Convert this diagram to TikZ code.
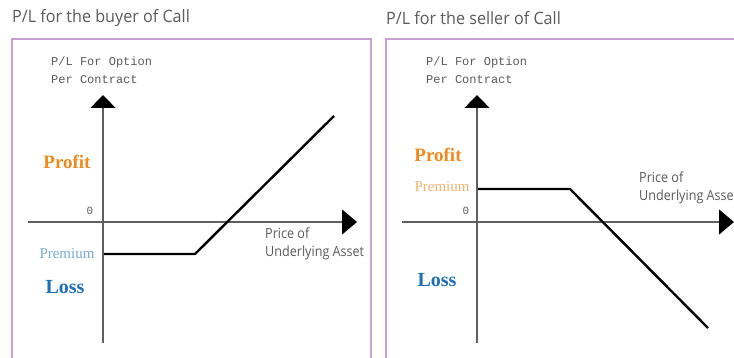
\documentclass[tikz,border=0pt]{standalone}
\usepackage{fontspec}
\setmainfont{Liberation Serif}
\newfontfamily\titlefont[FakeStretch=0.95]{Open Sans}
\newfontfamily\narrowfont[FakeStretch=0.9]{Open Sans}
\newfontfamily\monofont{Liberation Mono}
\usetikzlibrary{arrows.meta}
\definecolor{boxpurple}{RGB}{200,160,210}
\definecolor{profitorange}{RGB}{240,138,28}
\definecolor{premblue}{RGB}{120,170,215}
\definecolor{premorange}{RGB}{245,178,110}
\definecolor{lossblue}{RGB}{30,110,185}
\definecolor{axisgray}{RGB}{95,95,95}
\definecolor{textgray}{RGB}{90,90,90}
\tikzset{
  panelbox/.style={draw=boxpurple, line width=1.3pt},
  axisline/.style={draw=axisgray, line width=1.2pt},
  yaxisarrow/.style={axisline, -{Triangle[length=13pt,width=25pt,color=black]}},
  xaxisarrow/.style={axisline, -{Triangle[length=15pt,width=25pt,color=black]}},
  payoff/.style={draw=black, line width=2.4pt, line join=round},
  paneltitle/.style={anchor=west, inner sep=0pt, text=textgray, font=\titlefont\fontsize{17}{19}\selectfont},
  ylabeltext/.style={anchor=west, inner sep=0pt, align=left, text=textgray, font=\monofont\fontsize{12}{18}\selectfont},
  profittext/.style={inner sep=0pt, text=profitorange, font=\bfseries\fontsize{19}{20}\selectfont},
  losstext/.style={inner sep=0pt, text=lossblue, font=\bfseries\fontsize{20}{22}\selectfont},
  premtext/.style={inner sep=0pt, font=\fontsize{15}{16}\selectfont},
  zerotext/.style={inner sep=0pt, text=textgray, font=\monofont\fontsize{11}{12}\selectfont},
  pricetext/.style={anchor=west, inner sep=0pt, align=left, text=textgray, font=\narrowfont\fontsize{14}{18}\selectfont},
}
\begin{document}
\begin{tikzpicture}[x=1pt, y=-1pt]
\useasboundingbox (0,0) rectangle (734,358);
\clip (0,0) rectangle (734,358);
% ---------- left panel ----------
\node[paneltitle] (t1) at (12,18) {P/L for the buyer of Call};
\draw[panelbox] (12,365) -- (12,39) -- (371,39) -- (371,365);
\coordinate (ya1b) at (103,343);
\coordinate (ya1t) at (103,95);
\coordinate (xa1l) at (28,222);
\coordinate (xa1r) at (357,222);
\draw[yaxisarrow] (ya1b) -- (ya1t);
\draw[xaxisarrow] (xa1l) -- (xa1r);
\node[ylabeltext] (yl1) at (51,70) {P/L For Option\\Per Contract};
\node[profittext] (pr1) at (67,162) {Profit};
\node[zerotext] (z1) at (90,211) {0};
\node[premtext, text=premblue] (pm1) at (67,254) {Premium};
\node[losstext] (l1) at (65,287) {Loss};
\node[pricetext] (px1) at (265,244) {Price of\\Underlying Asset};
\coordinate (p1a) at (104,254);
\coordinate (p1b) at (195,254);
\coordinate (p1c) at (334,116);
\draw[payoff] (p1a) -- (p1b) -- (p1c);
% ---------- right panel ----------
\node[paneltitle] (t2) at (386,18) {P/L for the seller of Call};
\draw[panelbox] (386,365) -- (386,39) -- (740,39);
\coordinate (ya2b) at (477,343);
\coordinate (ya2t) at (477,95);
\coordinate (xa2l) at (402,222);
\coordinate (xa2r) at (734,222);
\draw[yaxisarrow] (ya2b) -- (ya2t);
\draw[xaxisarrow] (xa2l) -- (xa2r);
\node[ylabeltext] (yl2) at (426,70) {P/L For Option\\Per Contract};
\node[profittext] (pr2) at (438,155) {Profit};
\node[premtext, text=premorange] (pm2) at (442,187) {Premium};
\node[zerotext] (z2) at (466,211) {0};
\node[losstext] (l2) at (437,280) {Loss};
\node[pricetext] (px2) at (639,188) {Price of\\Underlying Asset};
\coordinate (p2a) at (478,189);
\coordinate (p2b) at (570,189);
\coordinate (p2c) at (708,328);
\draw[payoff] (p2a) -- (p2b) -- (p2c);
\end{tikzpicture}
\end{document}
